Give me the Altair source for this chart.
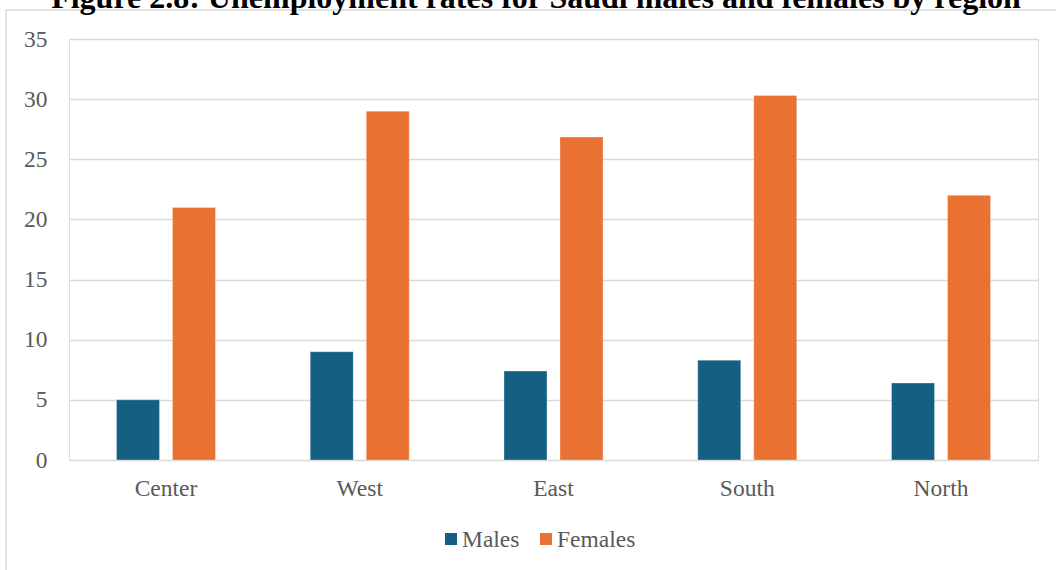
import altair as alt
import pandas as pd

regions = ["Center", "West", "East", "South", "North"]
males = [5.0, 9.0, 7.4, 8.3, 6.4]
females = [21.0, 29.0, 26.85, 30.3, 22.0]
series = ["Males", "Females"]
colors = ["#156082", "#E97132"]
title_text = "Figure 2.8: Unemployment rates for Saudi males and females by region"

rows = []
for r, m, f in zip(regions, males, females):
    rows.append({"region": r, "series": "Males", "value": m})
    rows.append({"region": r, "series": "Females", "value": f})
df = pd.DataFrame(rows)

FONT = "Liberation Serif"
FS = 23.5
W, H = 969, 421

bars = alt.Chart(df).mark_bar(stroke="white", strokeWidth=0.6, strokeOpacity=0.5).encode(
    x=alt.X("region:N", sort=regions, title=None,
            scale=alt.Scale(paddingInner=0.489, paddingOuter=0.245),
            axis=alt.Axis(labelAngle=0, labelFont=FONT, labelFontSize=FS, labelColor="#595959",
                          ticks=False, domain=False, labelPadding=16)),
    xOffset=alt.XOffset("series:N", sort=series,
                        scale=alt.Scale(paddingInner=0.232, paddingOuter=0)),
    y=alt.Y("value:Q", title=None,
            scale=alt.Scale(domain=[0, 35], nice=False),
            axis=alt.Axis(values=[0, 5, 10, 15, 20, 25, 30, 35], labelFont=FONT, labelFontSize=FS,
                          labelColor="#595959", ticks=False, domain=False, labelPadding=22,
                          gridColor="#d9d9d9", gridWidth=1.3)),
    color=alt.Color("series:N", sort=series,
                    scale=alt.Scale(domain=series, range=colors), legend=None),
)

title_df = pd.DataFrame({"t": [title_text]})
title = alt.Chart(title_df).mark_text(font=FONT, fontSize=32, fontWeight="bold", color="black",
                                      align="center", baseline="alphabetic").encode(
    text="t:N", x=alt.value(467), y=alt.value(-31))

# manual legend (one swatch + label per series)
legend_layers = []
sym_x = [382, 477]
for name, col, sx in zip(series, colors, sym_x):
    ldf = pd.DataFrame({"series": [name]})
    legend_layers.append(
        alt.Chart(ldf).mark_square(size=144, filled=True, opacity=1, color=col).encode(
            x=alt.value(sx), y=alt.value(500)))
    legend_layers.append(
        alt.Chart(ldf).mark_text(font=FONT, fontSize=FS, color="#595959", align="left",
                                 baseline="middle").encode(
            text="series:N", x=alt.value(sx + 11), y=alt.value(501)))

border_top = alt.Chart(title_df).mark_rule(color="#d9d9d9", strokeWidth=1.5).encode(
    x=alt.value(-63), x2=alt.value(1000), y=alt.value(-29))
border_left = alt.Chart(title_df).mark_rule(color="#d9d9d9", strokeWidth=1.5).encode(
    x=alt.value(-63), y=alt.value(-29), y2=alt.value(600))

chart = alt.layer(border_top, border_left, bars, title, *legend_layers).properties(
    width=W, height=H,
    autosize=alt.AutoSizeParams(type="none"),
    padding={"left": 69, "top": 39, "right": 18, "bottom": 110},
).configure_view(stroke=None).configure(background="white", font=FONT)

chart.save("out.html", embed_options={"renderer": "svg", "actions": False})
